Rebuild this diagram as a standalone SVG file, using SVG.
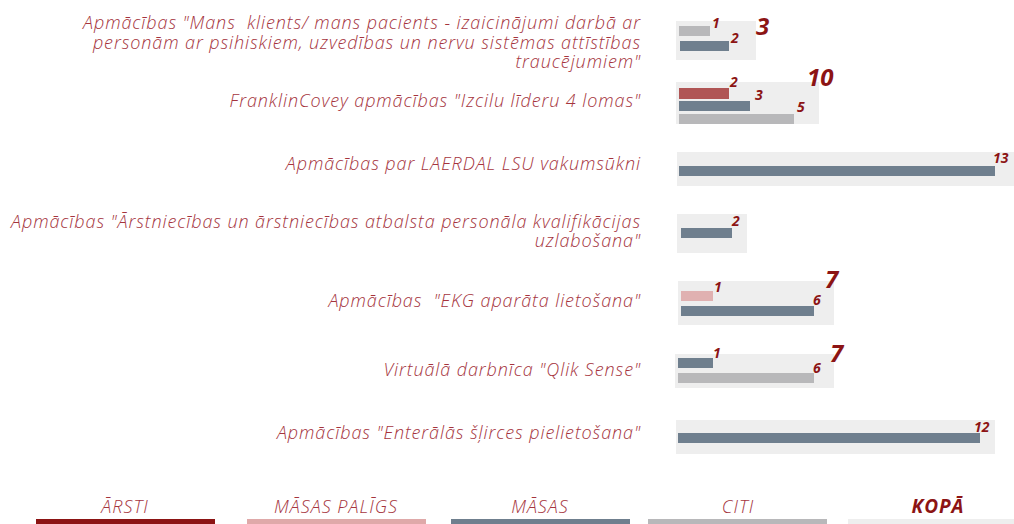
<svg xmlns="http://www.w3.org/2000/svg" width="1014" height="524" viewBox="0 0 1014 524">
<style>
.lbl{font-family:"Open Sans","Liberation Sans",sans-serif;font-style:italic;font-weight:300;font-size:18px;letter-spacing:0.9px;fill:#a5343d;text-anchor:end;white-space:pre}
.bg{fill:#eeeeee}
.red{fill:#b05555}
.sl{fill:#6f7f8e}
.gr{fill:#b8b8ba}
.pk{fill:#e0b1b1}
.n{font-family:"Open Sans","Liberation Sans",sans-serif;font-style:italic;font-weight:700;font-size:14px;fill:#8c1414}
.t{font-family:"Open Sans","Liberation Sans",sans-serif;font-style:italic;font-weight:700;font-size:24px;fill:#8c1414}
.lg{font-family:"Open Sans","Liberation Sans",sans-serif;font-style:italic;font-weight:300;font-size:18px;letter-spacing:1px;fill:#a5343d;text-anchor:middle}
</style>
<rect width="1014" height="524" fill="#ffffff"/>
<g id="row1">
<text class="lbl" x="641" y="29">Apmācības "Mans  klients/ mans pacients - izaicinājumi darbā ar</text>
<text class="lbl" x="641" y="49">personām ar psihiskiem, uzvedības un nervu sistēmas attīstības</text>
<text class="lbl" x="641" y="68">traucējumiem"</text>
<rect class="bg" x="676" y="21" width="80" height="39"/>
<rect class="gr" x="679" y="26" width="31" height="10"/>
<rect class="sl" x="680" y="41" width="49" height="10"/>
<text class="n" x="712" y="28">1</text>
<text class="n" x="731" y="43">2</text>
<text class="t" x="756" y="35">3</text>
</g>
<g id="row2">
<text class="lbl" x="641" y="107">FranklinCovey apmācības "Izcilu līderu 4 lomas"</text>
<rect class="bg" x="676" y="82" width="143" height="42"/>
<rect class="red" x="679" y="88" width="50" height="11"/>
<rect class="sl" x="679" y="101" width="71" height="10"/>
<rect class="gr" x="679" y="114" width="115" height="10"/>
<text class="n" x="730" y="87">2</text>
<text class="n" x="755" y="100">3</text>
<text class="n" x="797" y="112">5</text>
<text class="t" x="807" y="86">10</text>
</g>
<g id="row3">
<text class="lbl" x="641" y="170">Apmācības par LAERDAL LSU vakumsūkni</text>
<rect class="bg" x="677" y="152" width="337" height="34"/>
<rect class="sl" x="679" y="166" width="316" height="10"/>
<text class="n" x="993" y="163">13</text>
</g>
<g id="row4">
<text class="lbl" x="641" y="228">Apmācības "Ārstniecības un ārstniecības atbalsta personāla kvalifikācijas</text>
<text class="lbl" x="641" y="247">uzlabošana"</text>
<rect class="bg" x="677" y="214" width="70" height="39"/>
<rect class="sl" x="681" y="228" width="51" height="10"/>
<text class="n" x="732" y="226">2</text>
</g>
<g id="row5">
<text class="lbl" x="641" y="307">Apmācības  "EKG aparāta lietošana"</text>
<rect class="bg" x="678" y="281" width="156" height="44"/>
<rect class="pk" x="681" y="291" width="32" height="10"/>
<rect class="sl" x="681" y="306" width="133" height="10"/>
<text class="n" x="714" y="292">1</text>
<text class="n" x="813" y="305">6</text>
<text class="t" x="825" y="288">7</text>
</g>
<g id="row6">
<text class="lbl" x="641" y="376">Virtuālā darbnīca "Qlik Sense"</text>
<rect class="bg" x="675" y="354" width="159" height="34"/>
<rect class="sl" x="678" y="358" width="35" height="10"/>
<rect class="gr" x="678" y="373" width="136" height="10"/>
<text class="n" x="713" y="358">1</text>
<text class="n" x="813" y="373">6</text>
<text class="t" x="830" y="362">7</text>
</g>
<g id="row7">
<text class="lbl" x="641" y="439">Apmācības "Enterālās šļirces pielietošana"</text>
<rect class="bg" x="676" y="420" width="319" height="34"/>
<rect class="sl" x="678" y="433" width="302" height="10"/>
<text class="n" x="974" y="432">12</text>
</g>
<g id="legend">
<text class="lg" x="125" y="513">ĀRSTI</text>
<rect x="36" y="519" width="179" height="5" fill="#8c1414"/>
<text class="lg" x="336" y="513">MĀSAS PALĪGS</text>
<rect x="247" y="519" width="179" height="5" fill="#dfa9a9"/>
<text class="lg" x="540" y="513">MĀSAS</text>
<rect x="451" y="519" width="179" height="5" fill="#6f7f8e"/>
<text class="lg" x="738" y="513">CITI</text>
<rect x="648" y="519" width="179" height="5" fill="#b8b8ba"/>
<text class="lg" x="938" y="513" style="font-weight:700;font-size:19px;fill:#8c1414">KOPĀ</text>
<rect x="848" y="519" width="166" height="5" fill="#eeeeee"/>
</g>
</svg>
